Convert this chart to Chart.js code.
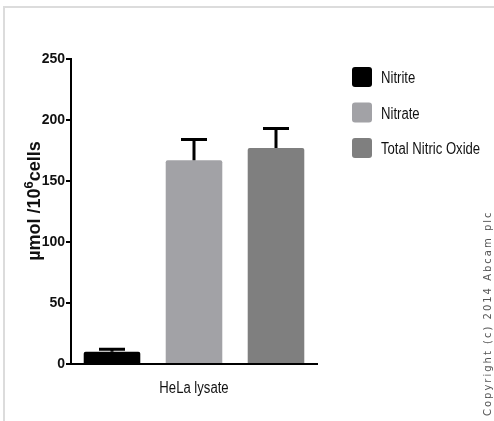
<!doctype html>
<html lang="en">
<head>
  <meta charset="UTF-8">
  <title>Nitric oxide in HeLa lysate</title>
  <script src="https://cdn.jsdelivr.net/npm/chart.js"></script>
  <style>
    html, body { margin: 0; padding: 0; background: #fff; }
    #wrap { position: relative; width: 494px; height: 421px; }
  </style>
</head>
<body>
<div id="wrap"><canvas id="noChart" width="494" height="421"></canvas></div>
<script>
  // data
  const categories = ['HeLa lysate'];
  const seriesNames = ['Nitrite', 'Nitrate', 'Total Nitric Oxide'];
  const seriesValues = [10, 167, 177];
  const seriesErrors = [2, 17, 16];
  const seriesColors = ['#000000', '#a2a2a6', '#7f7f7f'];
  const yTicks = [0, 50, 100, 150, 200, 250];

  const FONT = "'Liberation Sans', Arial, sans-serif";

  // squeezed text, stands in for the narrow face of the original
  function narrowText(c, text, x, y, font, sx, align) {
    c.save();
    c.font = font;
    const w = c.measureText(text).width * sx;
    c.translate(align === 'center' ? x - w / 2 : x, y);
    c.scale(sx, 1);
    c.textAlign = 'left';
    c.fillText(text, 0, 0);
    c.restore();
  }

  // frame, error bars, legend, axis titles, copyright
  const extras = {
    id: 'extras',
    beforeDraw(chart) {
      const c = chart.ctx;
      c.save();
      c.fillStyle = '#fff';
      c.fillRect(0, 0, chart.width, chart.height);
      c.strokeStyle = '#dcdcdc';
      c.lineWidth = 2;
      c.beginPath();
      c.moveTo(4, chart.height);
      c.lineTo(4, 7);
      c.lineTo(chart.width, 7);
      c.stroke();
      c.restore();
    },
    afterDatasetsDraw(chart) {
      const c = chart.ctx;
      const y = chart.scales.y;
      const xs = chart.scales.x;
      c.save();
      c.strokeStyle = '#000';
      c.lineWidth = 3;
      chart.data.datasets.forEach((ds, i) => {
        const bar = chart.getDatasetMeta(i).data[0];
        const top = y.getPixelForValue(ds.data[0] + seriesErrors[i]);
        c.beginPath();
        c.moveTo(bar.x, bar.y);
        c.lineTo(bar.x, top);
        c.moveTo(bar.x - 13, top);
        c.lineTo(bar.x + 13, top);
        c.stroke();
      });
      c.restore();

      // category label
      c.save();
      c.fillStyle = '#111';
      c.textBaseline = 'alphabetic';
      chart.data.labels.forEach((lab, i) => {
        narrowText(c, lab, xs.getPixelForValue(i), 393, '16px ' + FONT, 0.82, 'center');
      });
      c.restore();

      // legend
      c.save();
      c.textBaseline = 'middle';
      seriesNames.forEach((name, i) => {
        const ly = 77 + i * 35.5;
        c.fillStyle = seriesColors[i];
        c.beginPath();
        c.roundRect(352, ly - 10, 20, 20, 3);
        c.fill();
        c.fillStyle = '#111';
        narrowText(c, name, 381, ly + 2, '16px ' + FONT, 0.82, 'left');
      });
      c.restore();

      // y axis title with superscript
      c.save();
      c.translate(35, 201);
      c.rotate(-Math.PI / 2);
      c.fillStyle = '#111';
      c.textBaseline = 'middle';
      c.textAlign = 'left';
      const big = 'bold 18px ' + FONT, small = 'bold 13px ' + FONT;
      const parts = [['µmol /10', big, 0], ['6', small, -6], ['cells', big, 0]];
      let w = 0;
      parts.forEach(p => { c.font = p[1]; w += c.measureText(p[0]).width; });
      let x = -w / 2;
      parts.forEach(p => {
        c.font = p[1];
        c.fillText(p[0], x, p[2]);
        x += c.measureText(p[0]).width;
      });
      c.restore();

      // copyright
      c.save();
      c.translate(488, 416);
      c.rotate(-Math.PI / 2);
      c.font = "10px 'DejaVu Sans', sans-serif";
      c.fillStyle = '#555';
      c.textBaseline = 'middle';
      c.letterSpacing = '2px';
      c.fillText('Copyright (c) 2014 Abcam plc', 0, 0);
      c.restore();
    }
  };

  new Chart(document.getElementById('noChart'), {
    type: 'bar',
    data: {
      labels: categories,
      datasets: seriesNames.map((name, i) => ({
        label: name,
        data: [seriesValues[i]],
        backgroundColor: seriesColors[i],
        borderRadius: 2,
        borderSkipped: 'bottom'
      }))
    },
    options: {
      responsive: false,
      animation: false,
      devicePixelRatio: 1,
      layout: { padding: { top: 59, right: 177, bottom: 20, left: 20 } },
      categoryPercentage: 1.0,
      barPercentage: 0.69,
      plugins: {
        legend: { display: false },
        tooltip: { enabled: false }
      },
      scales: {
        x: {
          grid: { display: false },
          border: { display: true, color: '#000', width: 2 },
          ticks: { display: false },
          afterFit(s) { s.height = 37; }
        },
        y: {
          min: 0,
          max: 250,
          afterBuildTicks(s) { s.ticks = yTicks.map(v => ({ value: v })); },
          grid: { display: true, drawOnChartArea: false, drawTicks: true, tickLength: 5, color: '#000', lineWidth: 2 },
          border: { display: true, color: '#000', width: 2 },
          ticks: { color: '#111', font: { family: FONT, size: 14, weight: 'bold' }, padding: 1 },
          afterFit(s) { s.width = 51; }
        }
      }
    },
    plugins: [extras]
  });
</script>
</body>
</html>
